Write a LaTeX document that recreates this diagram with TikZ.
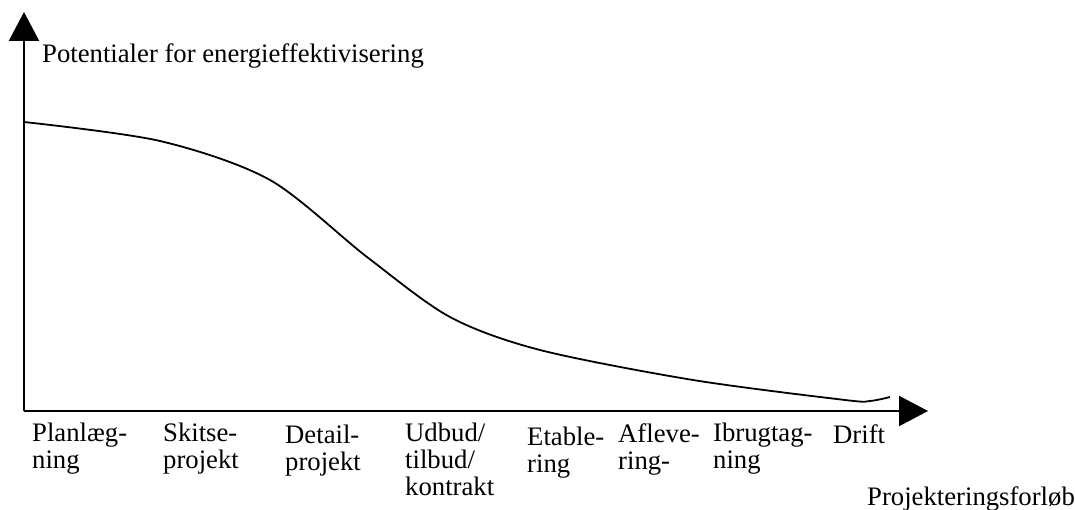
\documentclass[tikz,border=0pt]{standalone}
\usepackage{fontspec}
\setmainfont{Liberation Serif}
\usetikzlibrary{arrows.meta}
\begin{document}
\begin{tikzpicture}[x=1pt,y=-1pt,
  axis/.style={line width=2.2pt,-{Triangle[length=29pt,width=30pt]}},
  curve/.style={line width=1.8pt},
  lbl/.style={anchor=base west,inner sep=0pt,align=left,font=\fontsize{26.7}{26.7}\selectfont}]
\useasboundingbox (0,0) rectangle (1075,510);
\coordinate (O) at (24,411);
\coordinate (ytip) at (24,12);
\coordinate (xtip) at (928,411);
\draw[axis] (O) -- (ytip);
\draw[axis] (O) -- (xtip);
\draw[curve] plot[smooth,tension=0.5] coordinates {(24,122) (160,141) (270,180) (367,257) (450,317) (540,350) (693,380) (845,400) (870,401) (890,397)};
\node[lbl] (ylab) at (42,63) {Potentialer for energieffektivisering};
\node[lbl] (xlab) at (867,505) {Projekteringsforløb};
\node[lbl] (l1) at (32,468) {Planlæg-\\ning};
\node[lbl] (l2) at (163,468) {Skitse-\\projekt};
\node[lbl] (l3) at (285,470) {Detail-\\projekt};
\node[lbl] (l4) at (405,495) {Udbud/\\tilbud/\\kontrakt};
\node[lbl] (l5) at (527,472) {Etable-\\ring};
\node[lbl] (l6) at (618,469) {Afleve-\\ring-};
\node[lbl] (l7) at (713,468) {Ibrugtag-\\ning};
\node[lbl] (l8) at (833,443) {Drift};
\end{tikzpicture}
\end{document}
